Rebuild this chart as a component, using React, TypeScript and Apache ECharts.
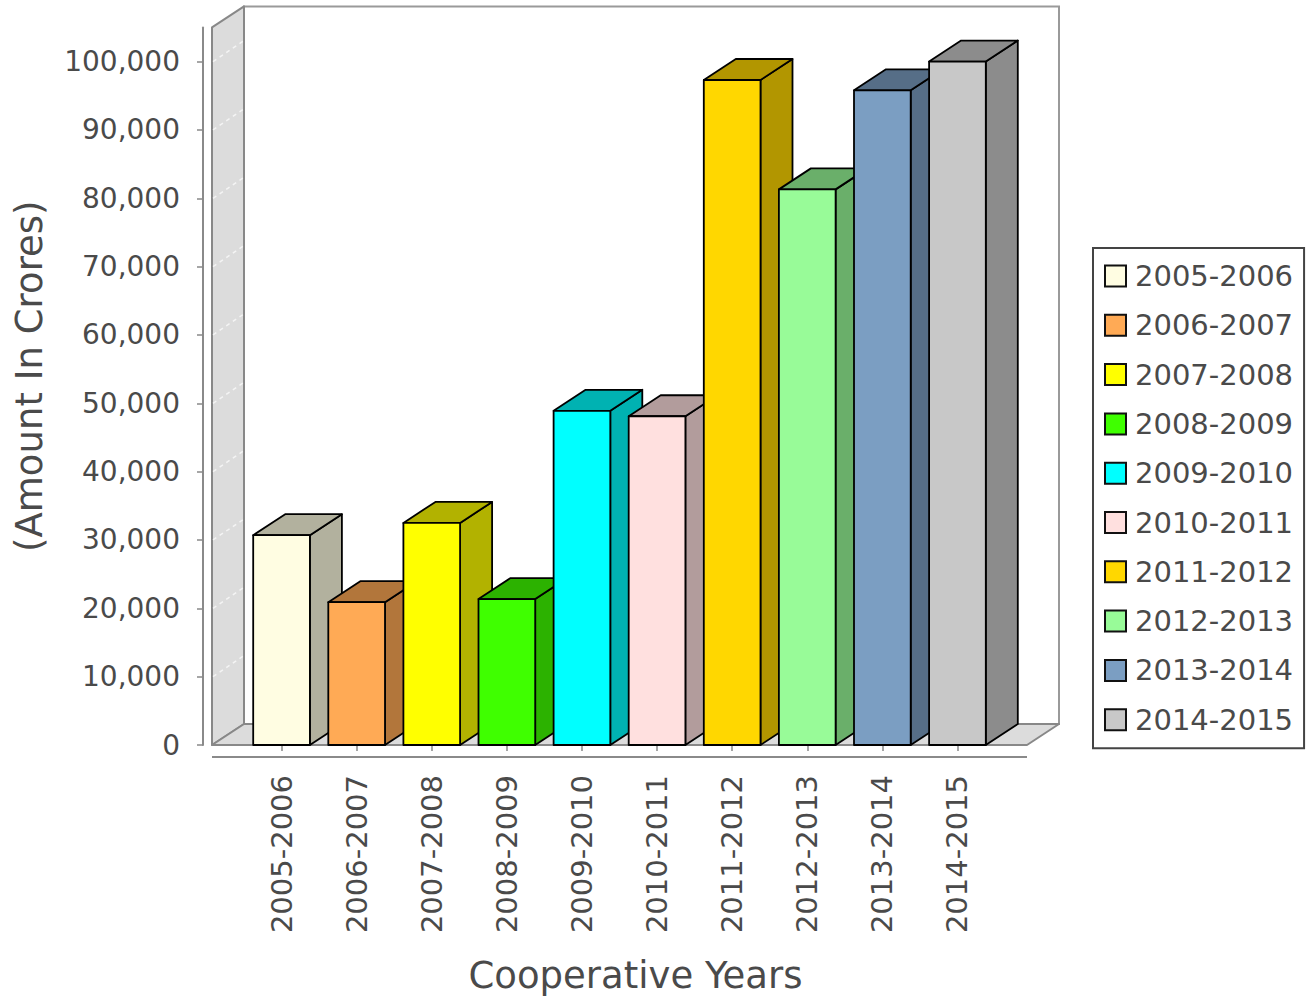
import React, { useEffect, useRef } from 'react';
import * as echarts from 'echarts';

const CATEGORIES = [
  '2005-2006', '2006-2007', '2007-2008', '2008-2009', '2009-2010',
  '2010-2011', '2011-2012', '2012-2013', '2013-2014', '2014-2015',
];
const VALUES = [30700, 20900, 32500, 21350, 48900, 48100, 97300, 81300, 95800, 100000];
const Y_TICKS = [0, 10000, 20000, 30000, 40000, 50000, 60000, 70000, 80000, 90000, 100000];
const Y_MAX = 105000;
const FRONT_COLORS = [
  '#FFFDE2', '#FFAA55', '#FFFF00', '#3FFF00', '#00FFFF',
  '#FFE0DF', '#FFD700', '#98FB98', '#7B9EC2', '#C8C8C8',
];

// style constants
const DX = 32; // 3D depth (x)
const DY = 21; // 3D depth (y)
const EXT = 32; // front plane overhang beyond the category bands
const BAR_RATIO = 0.755;
const X_AXIS_OFFSET = 12;
const TEXT_COLOR = '#4a4a4a';
const FONT = '"DejaVu Sans", Verdana, sans-serif';

function darker(hex: string): string {
  const n = parseInt(hex.slice(1), 16);
  const r = Math.floor(((n >> 16) & 255) * 0.7);
  const g = Math.floor(((n >> 8) & 255) * 0.7);
  const b = Math.floor((n & 255) * 0.7);
  return 'rgb(' + r + ',' + g + ',' + b + ')';
}

const renderFrame = (params: any, api: any) => {
  const cs = params.coordSys;
  const L = cs.x - EXT;
  const R = cs.x + cs.width + EXT;
  const T = cs.y;
  const B = cs.y + cs.height;
  const children: any[] = [
    {
      type: 'rect',
      shape: { x: L + DX, y: T - DY, width: R - L, height: B - T },
      style: { fill: '#ffffff', stroke: '#9a9a9a', lineWidth: 2 },
    },
    {
      type: 'polygon',
      shape: { points: [[L, T], [L + DX, T - DY], [L + DX, B - DY], [L, B]] },
      style: { fill: '#dcdcdc', stroke: '#888888', lineWidth: 2, lineJoin: 'round' },
    },
    {
      type: 'polygon',
      shape: { points: [[L, B], [L + DX, B - DY], [R + DX, B - DY], [R, B]] },
      style: { fill: '#dcdcdc', stroke: '#888888', lineWidth: 2, lineJoin: 'round' },
    },
  ];
  Y_TICKS.forEach((v) => {
    const y = api.coord([0, v])[1];
    if (v === 0) return;
    children.push({
      type: 'line',
      shape: { x1: L + 1, y1: y, x2: L + DX, y2: y - DY },
      style: { stroke: '#f4f4f4', lineWidth: 1.5, lineDash: [4, 4] },
    });
  });
  children.push({
    type: 'line',
    shape: { x1: L, y1: B + X_AXIS_OFFSET, x2: R, y2: B + X_AXIS_OFFSET },
    style: { stroke: '#8a8a8a', lineWidth: 2 },
  });
  return { type: 'group', children };
};

const makeBarRenderer = (idx: number) => (params: any, api: any) => {
  const c = api.value(0);
  const v = api.value(1);
  const topPt = api.coord([c, v]);
  const basePt = api.coord([c, 0]);
  const band = api.size([1, 0])[0];
  const w = band * BAR_RATIO;
  const cx = topPt[0];
  const l = cx - w / 2;
  const r = cx + w / 2;
  const yTop = topPt[1];
  const yBase = basePt[1];
  const side = darker(FRONT_COLORS[idx]);
  const edge = { stroke: '#000000', lineWidth: 1.8, lineJoin: 'round' };
  return {
    type: 'group',
    children: [
      {
        type: 'polygon',
        shape: { points: [[r, yTop], [r + DX, yTop - DY], [r + DX, yBase - DY], [r, yBase]] },
        style: { ...edge, fill: side },
      },
      {
        type: 'polygon',
        shape: { points: [[l, yTop], [l + DX, yTop - DY], [r + DX, yTop - DY], [r, yTop]] },
        style: { ...edge, fill: side },
      },
      {
        type: 'rect',
        shape: { x: l, y: yTop, width: w, height: yBase - yTop },
        style: { ...edge, fill: FRONT_COLORS[idx] },
      },
    ],
  };
};

export default function App() {
  const ref = useRef<HTMLDivElement>(null);

  useEffect(() => {
    if (!ref.current) return;
    const chart = echarts.init(ref.current, undefined, { renderer: 'svg' });

    const barSeries = CATEGORIES.map((name, i) => ({
      name,
      type: 'custom',
      clip: false,
      z: 10 + i,
      itemStyle: { color: FRONT_COLORS[i] },
      renderItem: makeBarRenderer(i),
      data: [[i, VALUES[i]]],
    }));

    chart.setOption({
      animation: false,
      backgroundColor: '#ffffff',
      textStyle: { fontFamily: FONT },
      grid: { left: 244, top: 27.4, width: 751, bottom: 252, containLabel: false },
      legend: {
        orient: 'vertical',
        left: 1093,
        top: 248,
        icon: 'rect',
        itemWidth: 21,
        itemHeight: 21,
        itemGap: 20.3,
        padding: [13.5, 11, 14, 11],
        borderColor: '#444444',
        borderWidth: 2,
        selectedMode: false,
        textStyle: { fontSize: 29, color: TEXT_COLOR, lineHeight: 27, fontFamily: FONT, padding: [0, 0, 0, 4] },
        data: CATEGORIES.map((name, i) => ({
          name,
          itemStyle: { color: FRONT_COLORS[i], borderColor: '#111111', borderWidth: 2 },
        })),
      },
      xAxis: {
        type: 'category',
        data: CATEGORIES,
        offset: X_AXIS_OFFSET,
        axisLine: { show: false },
        axisTick: { show: true, alignWithLabel: true, length: 6, lineStyle: { color: '#888888', width: 1.5 } },
        axisLabel: { rotate: 90, interval: 0, margin: 18, fontSize: 29, color: TEXT_COLOR, fontFamily: FONT },
        splitLine: { show: false },
        name: 'Cooperative Years',
        nameLocation: 'middle',
        nameGap: 200,
        nameTextStyle: { fontSize: 37, color: TEXT_COLOR, fontFamily: FONT, padding: [0, 0, 0, 32] },
      },
      yAxis: {
        type: 'value',
        min: 0,
        max: Y_MAX,
        interval: 10000,
        offset: 41,
        axisLine: { show: true, lineStyle: { color: '#8a8a8a', width: 2 } },
        axisTick: { show: true, length: 6, customValues: Y_TICKS, lineStyle: { color: '#888888', width: 1.5 } },
        axisLabel: {
          customValues: Y_TICKS,
          margin: 23,
          fontSize: 28,
          color: TEXT_COLOR,
          fontFamily: FONT,
          formatter: (v: number) => v.toLocaleString('en-US'),
        },
        splitLine: { show: false },
        name: '(Amount In Crores)',
        nameLocation: 'middle',
        nameGap: 155,
        nameTextStyle: { fontSize: 37, color: TEXT_COLOR, fontFamily: FONT, padding: [0, 0, 0, 20] },
      },
      series: [
        {
          name: 'frame',
          type: 'custom',
          clip: false,
          z: 1,
          silent: true,
          renderItem: renderFrame,
          data: [[0, 0]],
        },
        ...barSeries,
      ],
    });

    return () => {
      chart.dispose();
    };
  }, []);

  return (
    <div
      ref={ref}
      style={{ position: 'fixed', left: 0, top: 0, width: 1307, height: 999, background: '#ffffff' }}
    />
  );
}
